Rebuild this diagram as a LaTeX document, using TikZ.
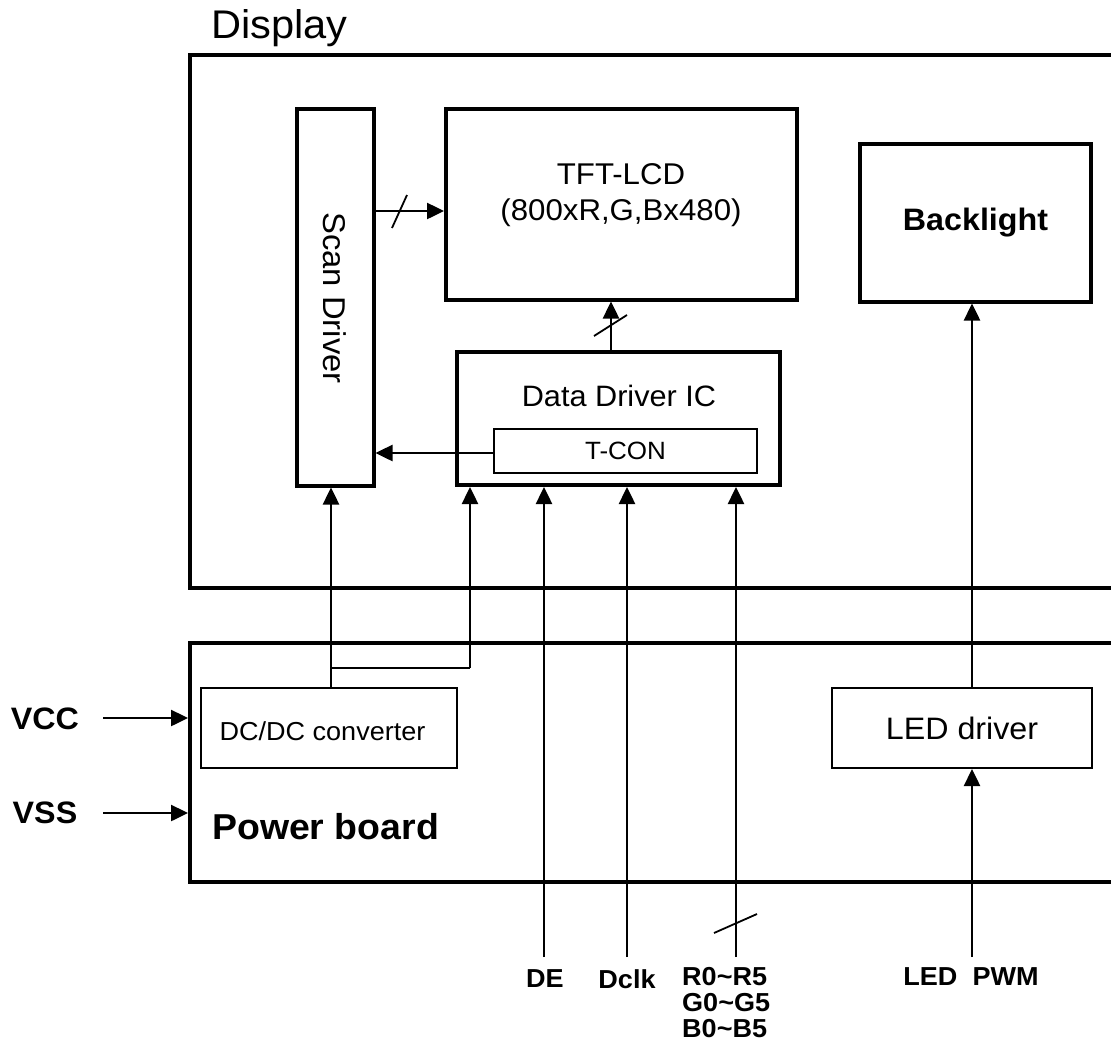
\documentclass[tikz,border=0pt]{standalone}
\usepackage{fontspec}
\setmainfont{Liberation Sans}[FakeStretch=1.04]
\usetikzlibrary{arrows.meta}
\newcommand{\fs}[2]{\fontsize{#1}{#2}\selectfont}
\tikzset{
  thickbox/.style={draw, line width=4pt, rectangle, inner sep=0pt, align=center},
  thinbox/.style={draw, line width=2pt, rectangle, inner sep=0pt, align=center},
  arr/.style={line width=2.5pt, -{Triangle[length=17pt,width=16pt]}},
  wire/.style={line width=2.5pt},
  slash/.style={line width=1.8pt},
  lbl/.style={font=\bfseries\fs{26}{26}, inner sep=0pt}
}
\begin{document}
\begin{tikzpicture}[x=1pt,y=-1pt]
\useasboundingbox (0,0) rectangle (1111,1042);
\clip (0,0) rectangle (1111,1042);
\fill[white] (0,0) rectangle (1111,1042);

% outer boxes
\node[thickbox, minimum width=1020pt, minimum height=533pt] (display) at (700,321.5) {};
\node[anchor=base west, inner sep=0pt, font=\fs{40}{48}] (displaylbl) at (211,38) {Display};
\node[thickbox, minimum width=1020pt, minimum height=239pt] (power) at (700,762.5) {};
\node[anchor=west, inner sep=0pt, font=\bfseries\fs{36}{43}] (powerlbl) at (212,827) {Power board};

% inner boxes
\node[thickbox, minimum width=77pt, minimum height=377pt] (scan) at (335,297) {};
\node[rotate=-90, font=\fs{31.5}{37}, inner sep=0pt] (scanlbl) at (335,298) {Scan Driver};
\node[thickbox, minimum width=351pt, minimum height=191pt] (tft) at (621.5,204) {};
\node[font=\fs{30}{36}, align=center, inner sep=0pt] (tftlbl) at (621,195) {TFT-LCD\\(800xR,G,Bx480)};
\node[thickbox, minimum width=323pt, minimum height=133pt] (ddic) at (618,418.5) {};
\node[font=\fs{29.5}{35}, inner sep=0pt] (ddiclbl) at (619,396) {Data Driver IC};
\node[thinbox, minimum width=263pt, minimum height=44pt, font=\fs{25}{30}] (tcon) at (625.5,451) {T-CON};
\node[thickbox, minimum width=231pt, minimum height=158pt, font=\bfseries\fs{31}{37}] (back) at (975.5,222.5) {Backlight};
\node[thinbox, minimum width=256pt, minimum height=80pt] (dcdc) at (329,727.5) {};
\node[font=\fs{26}{31}, inner sep=0pt] (dcdclbl) at (322.5,731) {DC/DC converter};
\node[thinbox, minimum width=260pt, minimum height=80pt, font=\fs{31}{37}] (led) at (962,728) {LED driver};

% external labels
\node[lbl, font=\bfseries\fs{31}{37}] (vcc) at (45,719) {VCC};
\node[lbl, font=\bfseries\fs{31}{37}] (vss) at (45,813) {VSS};
\node[lbl] (de) at (545,979) {DE};
\node[lbl] (dclk) at (627,979) {Dclk};
\node[lbl, align=left, anchor=north west] (rgb) at (682,967) {R0\textasciitilde R5\\G0\textasciitilde G5\\B0\textasciitilde B5};
\node[lbl] (pwm) at (971,977) {LED\ \ PWM};

% coordinates
\coordinate (vccs) at (103,718);
\coordinate (vsss) at (103,813);
\coordinate (des) at (544,957);
\coordinate (dclks) at (627,957);
\coordinate (rgbs) at (736,957);
\coordinate (pwms) at (972,957);
\coordinate (split) at (331,668);
\coordinate (corner) at (470,668);
\coordinate (lvlscan) at (0,211);
\coordinate (lvltcon) at (0,453);
\coordinate (lvldd) at (611,0);

% connectors
\draw[arr] (vccs) -- (vccs -| display.west);
\draw[arr] (vsss) -- (vsss -| display.west);
\draw[arr] (dcdc.north -| split) -- (scan.south -| split);
\draw[wire] (split) -- (corner);
\draw[arr] (corner) -- (ddic.south -| corner);
\draw[arr] (des) -- (ddic.south -| des);
\draw[arr] (dclks) -- (ddic.south -| dclks);
\draw[arr] (rgbs) -- (ddic.south -| rgbs);
\draw[arr] (pwms) -- (led.south -| pwms);
\draw[arr] (led.north -| pwms) -- (back.south -| pwms);
\draw[arr] (ddic.north -| lvldd) -- (tft.south -| lvldd);
\draw[arr] (scan.east |- lvlscan) -- (tft.west |- lvlscan);
\draw[arr] (tcon.west |- lvltcon) -- (scan.east |- lvltcon);

% bus slashes
\draw[slash] (392,228) -- (407,195);
\draw[slash] (594,336) -- (627,315);
\draw[slash] (714,933) -- (757,914);
\end{tikzpicture}
\end{document}
